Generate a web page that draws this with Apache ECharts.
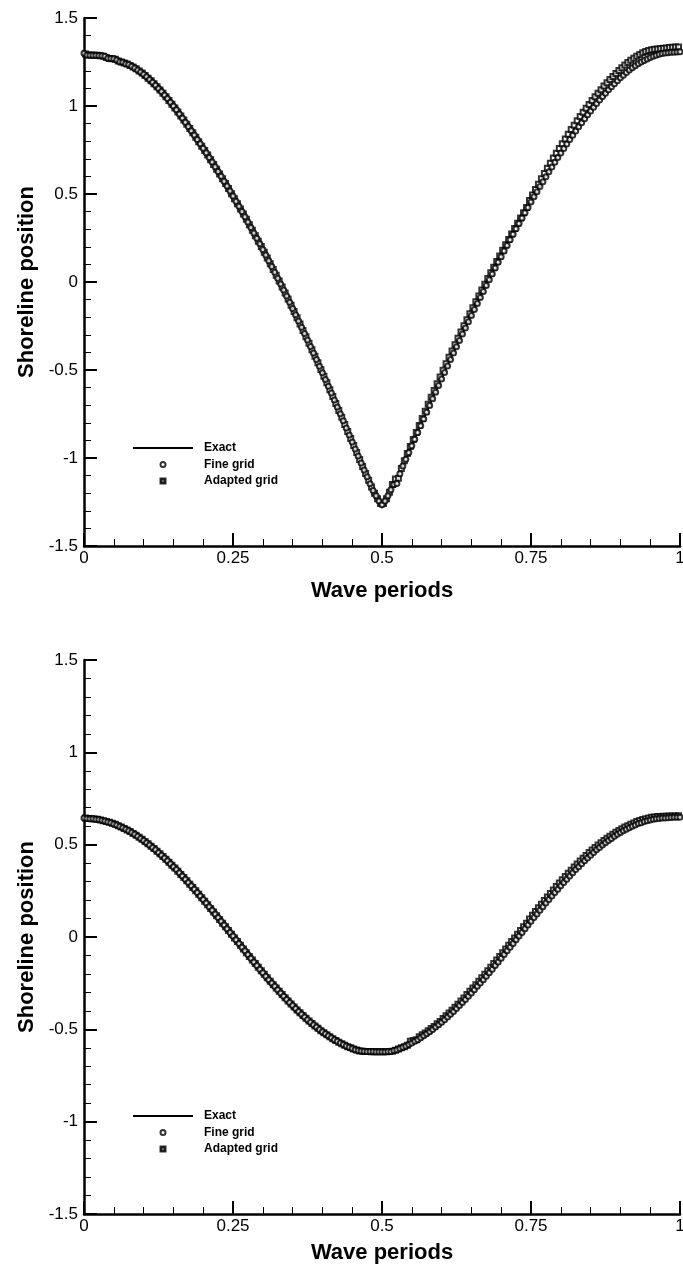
<!DOCTYPE html>
<html><head><meta charset="utf-8">
<script src="https://cdn.jsdelivr.net/npm/echarts@6/dist/echarts.min.js"></script>
<style>html,body{margin:0;padding:0;background:#fff}#c{width:683px;height:1270px}</style>
</head><body><div id="c"></div>
<script>
// ---- tick labels ----
const X_TICK_LABELS = ['0', '0.25', '0.5', '0.75', '1'];
const Y_TICK_LABELS = ['-1.5', '-1', '-0.5', '0', '0.5', '1', '1.5'];
const SERIES_NAMES = ['Exact', 'Fine grid', 'Adapted grid'];

// ---- sampling times (wave periods) ----
const EXACT_T_START = 0, EXACT_T_STEP = 0.01;
const FINE_T_START = 0, FINE_T_STEP = 0.005;
const ADAPT_T_START = 0.0025, ADAPT_T_STEP = 0.005;

// ---- top panel: shoreline position ----
const TOP_EXACT = [
 1.300,1.299,1.297,1.292,1.285,1.275,1.262,1.246,1.228,1.205,
 1.180,1.151,1.118,1.082,1.042,1.000,0.955,0.908,0.860,0.810,
 0.760,0.708,0.655,0.601,0.545,0.488,0.430,0.371,0.310,0.248,
 0.185,0.121,0.055,-0.012,-0.080,-0.150,-0.221,-0.293,-0.366,-0.440,
 -0.515,-0.592,-0.670,-0.749,-0.829,-0.909,-0.989,-1.068,-1.146,-1.220,
 -1.285,-1.225,-1.155,-1.082,-1.007,-0.931,-0.855,-0.778,-0.702,-0.626,
 -0.551,-0.477,-0.404,-0.332,-0.261,-0.191,-0.122,-0.054,0.013,0.079,
 0.144,0.208,0.271,0.333,0.394,0.454,0.513,0.570,0.626,0.680,
 0.733,0.784,0.834,0.882,0.928,0.972,1.014,1.054,1.092,1.127,
 1.160,1.190,1.217,1.240,1.259,1.274,1.288,1.296,1.302,1.305,
 1.307
];
const TOP_FINE = [
 1.300,1.290,1.288,1.288,1.288,1.287,1.286,1.282,1.272,1.270,
 1.268,1.262,1.252,1.248,1.240,1.236,1.226,1.216,1.205,1.193,
 1.180,1.166,1.151,1.135,1.118,1.100,1.082,1.062,1.042,1.021,
 1.000,0.978,0.955,0.932,0.908,0.884,0.860,0.835,0.810,0.785,
 0.760,0.734,0.708,0.682,0.655,0.628,0.601,0.573,0.545,0.517,
 0.488,0.459,0.430,0.401,0.371,0.341,0.310,0.279,0.248,0.217,
 0.185,0.153,0.121,0.088,0.055,0.022,-0.012,-0.046,-0.080,-0.115,
 -0.150,-0.186,-0.221,-0.257,-0.293,-0.330,-0.366,-0.403,-0.440,-0.478,
 -0.515,-0.554,-0.592,-0.631,-0.670,-0.710,-0.749,-0.789,-0.829,-0.869,
 -0.909,-0.949,-0.989,-1.029,-1.068,-1.107,-1.146,-1.184,-1.215,-1.245,
 -1.265,-1.245,-1.215,-1.180,-1.150,-1.145,-1.090,-1.045,-1.007,-0.969,
 -0.931,-0.893,-0.855,-0.817,-0.778,-0.740,-0.702,-0.664,-0.626,-0.588,
 -0.551,-0.514,-0.477,-0.440,-0.404,-0.368,-0.332,-0.296,-0.261,-0.226,
 -0.191,-0.156,-0.122,-0.088,-0.054,-0.020,0.013,0.046,0.079,0.112,
 0.144,0.176,0.208,0.240,0.271,0.302,0.333,0.364,0.394,0.424,
 0.454,0.484,0.513,0.542,0.570,0.598,0.626,0.653,0.680,0.707,
 0.733,0.759,0.784,0.809,0.834,0.858,0.882,0.905,0.928,0.950,
 0.972,0.993,1.014,1.034,1.054,1.073,1.092,1.110,1.127,1.144,
 1.160,1.175,1.190,1.204,1.217,1.229,1.240,1.250,1.259,1.267,
 1.276,1.283,1.289,1.294,1.298,1.301,1.303,1.305,1.306,1.307,
 1.308
];
const TOP_ADAPTED = [
 1.295,1.290,1.290,1.289,1.288,1.286,1.282,1.276,1.270,1.268,
 1.266,1.256,1.250,1.244,1.238,1.230,1.222,1.211,1.199,1.187,
 1.173,1.158,1.143,1.127,1.109,1.091,1.072,1.052,1.031,1.010,
 0.989,0.966,0.943,0.920,0.896,0.872,0.848,0.822,0.797,0.772,
 0.747,0.721,0.695,0.668,0.641,0.614,0.587,0.559,0.531,0.502,
 0.473,0.444,0.415,0.386,0.356,0.325,0.294,0.263,0.232,0.201,
 0.169,0.137,0.104,0.071,0.038,0.005,-0.029,-0.063,-0.097,-0.132,
 -0.168,-0.203,-0.239,-0.275,-0.311,-0.348,-0.385,-0.422,-0.459,-0.497,
 -0.535,-0.573,-0.612,-0.651,-0.690,-0.730,-0.769,-0.809,-0.849,-0.889,
 -0.929,-0.969,-1.009,-1.049,-1.088,-1.127,-1.165,-1.200,-1.232,-1.258,
 -1.258,-1.232,-1.195,-1.150,-1.120,-1.115,-1.060,-1.015,-0.975,-0.935,
 -0.895,-0.855,-0.815,-0.775,-0.735,-0.695,-0.655,-0.617,-0.578,-0.540,
 -0.502,-0.465,-0.428,-0.392,-0.356,-0.320,-0.284,-0.249,-0.214,-0.180,
 -0.146,-0.112,-0.079,-0.046,-0.013,0.020,0.052,0.084,0.116,0.148,
 0.180,0.211,0.242,0.273,0.304,0.334,0.364,0.394,0.424,0.463,
 0.494,0.525,0.556,0.586,0.616,0.646,0.675,0.704,0.732,0.759,
 0.786,0.813,0.840,0.866,0.891,0.916,0.940,0.964,0.987,1.009,
 1.031,1.052,1.073,1.093,1.113,1.132,1.150,1.168,1.185,1.202,
 1.218,1.233,1.247,1.260,1.272,1.283,1.293,1.302,1.310,1.316,
 1.320,1.322,1.324,1.326,1.328,1.330,1.332,1.334,1.335,1.335
];

// ---- bottom panel: shoreline position ----
const BOTTOM_EXACT = [
 0.645,0.644,0.640,0.634,0.625,0.614,0.600,0.584,0.566,0.545,
 0.523,0.498,0.472,0.443,0.413,0.381,0.348,0.313,0.277,0.241,
 0.203,0.164,0.125,0.085,0.045,0.005,-0.035,-0.075,-0.115,-0.154,
 -0.193,-0.231,-0.267,-0.303,-0.338,-0.371,-0.403,-0.433,-0.462,-0.488,
 -0.513,-0.535,-0.556,-0.574,-0.590,-0.604,-0.615,-0.624,-0.630,-0.634,
 -0.635,-0.624,-0.615,-0.604,-0.590,-0.574,-0.556,-0.535,-0.513,-0.488,
 -0.462,-0.433,-0.403,-0.371,-0.338,-0.303,-0.267,-0.231,-0.193,-0.154,
 -0.115,-0.075,-0.035,0.005,0.045,0.085,0.125,0.164,0.203,0.241,
 0.277,0.313,0.348,0.381,0.413,0.443,0.472,0.498,0.523,0.545,
 0.566,0.584,0.600,0.614,0.625,0.634,0.640,0.644,0.645,0.646,
 0.647
];
const BOTTOM_FINE = [
 0.645,0.642,0.641,0.640,0.638,0.636,0.632,0.628,0.623,0.619,
 0.612,0.607,0.599,0.592,0.584,0.575,0.566,0.556,0.545,0.534,
 0.523,0.511,0.498,0.485,0.472,0.458,0.443,0.428,0.413,0.397,
 0.381,0.365,0.348,0.331,0.313,0.295,0.277,0.259,0.241,0.222,
 0.203,0.184,0.164,0.145,0.125,0.105,0.085,0.065,0.045,0.025,
 0.005,-0.015,-0.035,-0.055,-0.075,-0.095,-0.115,-0.135,-0.154,-0.174,
 -0.193,-0.212,-0.231,-0.249,-0.267,-0.285,-0.303,-0.321,-0.338,-0.355,
 -0.371,-0.387,-0.403,-0.418,-0.433,-0.448,-0.462,-0.475,-0.488,-0.501,
 -0.513,-0.524,-0.535,-0.546,-0.556,-0.565,-0.574,-0.582,-0.590,-0.597,
 -0.604,-0.610,-0.615,-0.618,-0.619,-0.620,-0.620,-0.620,-0.621,-0.621,
 -0.621,-0.621,-0.620,-0.620,-0.615,-0.610,-0.604,-0.597,-0.590,-0.582,
 -0.574,-0.565,-0.556,-0.546,-0.535,-0.524,-0.513,-0.501,-0.488,-0.475,
 -0.462,-0.448,-0.433,-0.418,-0.403,-0.387,-0.371,-0.355,-0.338,-0.321,
 -0.303,-0.285,-0.267,-0.249,-0.231,-0.212,-0.193,-0.174,-0.154,-0.135,
 -0.115,-0.095,-0.075,-0.055,-0.035,-0.015,0.005,0.025,0.045,0.065,
 0.085,0.105,0.125,0.145,0.164,0.184,0.203,0.222,0.241,0.259,
 0.277,0.295,0.313,0.331,0.348,0.365,0.381,0.397,0.413,0.428,
 0.443,0.458,0.472,0.485,0.498,0.511,0.523,0.534,0.545,0.556,
 0.566,0.575,0.584,0.592,0.600,0.607,0.614,0.619,0.625,0.630,
 0.634,0.637,0.640,0.642,0.644,0.645,0.646,0.647,0.648,0.648,
 0.649
];
const BOTTOM_ADAPTED = [
 0.644,0.642,0.641,0.639,0.637,0.634,0.630,0.626,0.621,0.616,
 0.610,0.603,0.596,0.588,0.580,0.571,0.561,0.551,0.540,0.529,
 0.517,0.505,0.492,0.479,0.465,0.451,0.436,0.421,0.405,0.389,
 0.373,0.356,0.339,0.322,0.304,0.286,0.268,0.250,0.231,0.212,
 0.193,0.174,0.155,0.135,0.115,0.095,0.075,0.055,0.035,0.015,
 -0.005,-0.025,-0.045,-0.065,-0.085,-0.105,-0.125,-0.144,-0.164,-0.183,
 -0.202,-0.221,-0.240,-0.258,-0.276,-0.294,-0.312,-0.329,-0.346,-0.363,
 -0.379,-0.395,-0.410,-0.425,-0.440,-0.455,-0.468,-0.482,-0.494,-0.507,
 -0.518,-0.530,-0.540,-0.551,-0.560,-0.570,-0.578,-0.586,-0.594,-0.600,
 -0.607,-0.612,-0.617,-0.619,-0.620,-0.620,-0.621,-0.621,-0.621,-0.621,
 -0.621,-0.621,-0.620,-0.619,-0.613,-0.607,-0.600,-0.594,-0.586,-0.565,
 -0.560,-0.556,-0.540,-0.530,-0.520,-0.508,-0.496,-0.484,-0.470,-0.457,
 -0.442,-0.427,-0.412,-0.396,-0.380,-0.364,-0.347,-0.330,-0.312,-0.294,
 -0.276,-0.258,-0.240,-0.221,-0.202,-0.183,-0.164,-0.144,-0.125,-0.105,
 -0.085,-0.065,-0.045,-0.025,-0.005,0.015,0.035,0.055,0.075,0.098,
 0.118,0.138,0.158,0.178,0.198,0.217,0.236,0.255,0.274,0.292,
 0.310,0.328,0.345,0.362,0.379,0.395,0.411,0.427,0.442,0.457,
 0.471,0.485,0.498,0.511,0.523,0.535,0.546,0.557,0.567,0.577,
 0.586,0.595,0.603,0.611,0.618,0.625,0.631,0.636,0.641,0.645,
 0.648,0.650,0.652,0.653,0.654,0.654,0.655,0.655,0.655,0.656
];

// ---- build ----
function pairs(vals, start, step) {
  return vals.map((v, i) => [+(start + i * step).toFixed(4), v]);
}
const FONT = 'Liberation Sans, Arial, Helvetica, sans-serif';

function xAxisCfg(gridIndex, nameGap) {
  return {
    type: 'value', gridIndex, min: 0, max: 1, interval: 0.25,
    axisLine: { show: true, onZero: false, lineStyle: { color: '#000', width: 2.5 } },
    axisTick: { show: true, inside: true, length: 13, lineStyle: { color: '#000', width: 2 } },
    minorTick: { show: true, splitNumber: 5, length: 7, lineStyle: { color: '#000', width: 1 } },
    splitLine: { show: false }, minorSplitLine: { show: false },
    axisLabel: { color: '#000', fontSize: 17, fontFamily: FONT, margin: 4,
      formatter: v => X_TICK_LABELS[Math.round(v / 0.25)] },
    name: 'Wave periods', nameLocation: 'middle', nameGap,
    nameTextStyle: { color: '#000', fontSize: 22, fontWeight: 'bold', fontFamily: FONT }
  };
}
function yAxisCfg(gridIndex) {
  return {
    type: 'value', gridIndex, min: -1.5, max: 1.5, interval: 0.5,
    axisLine: { show: true, onZero: false, lineStyle: { color: '#000', width: 2.5 } },
    axisTick: { show: true, inside: true, length: 13, lineStyle: { color: '#000', width: 2 } },
    minorTick: { show: true, splitNumber: 5, length: 7, lineStyle: { color: '#000', width: 1 } },
    splitLine: { show: false }, minorSplitLine: { show: false },
    axisLabel: { color: '#000', fontSize: 17, fontFamily: FONT, margin: 6,
      formatter: v => Y_TICK_LABELS[Math.round((v + 1.5) / 0.5)] },
    name: 'Shoreline position', nameLocation: 'middle', nameGap: 36, nameRotate: 90,
    nameTextStyle: { color: '#000', fontSize: 22, fontWeight: 'bold', fontFamily: FONT }
  };
}
function legendCfg(top) {
  return {
    left: 127, top, orient: 'vertical', itemWidth: 60, itemHeight: 5, itemGap: 4.5,
    selectedMode: false, symbolKeepAspect: true,
    data: [
      { name: SERIES_NAMES[0], itemStyle: { opacity: 0 } },
      { name: SERIES_NAMES[1], icon: 'emptyCircle' },
      { name: SERIES_NAMES[2], icon: 'path://M0,0L10,0L10,10L0,10Z M2,2L2,8L8,8L8,2Z' }
    ],
    textStyle: { color: '#000', fontSize: 12, fontWeight: 'bold', fontFamily: FONT, padding: [0, 0, 0, 6] }
  };
}
function panelSeries(idx, exact, fine, adapted) {
  return [
    { name: SERIES_NAMES[0], type: 'line', xAxisIndex: idx, yAxisIndex: idx,
      data: pairs(exact, EXACT_T_START, EXACT_T_STEP), showSymbol: false, symbol: 'none',
      lineStyle: { color: '#000', width: 1 }, itemStyle: { color: '#000' }, z: 1, silent: true },
    { name: SERIES_NAMES[1], type: 'scatter', xAxisIndex: idx, yAxisIndex: idx,
      data: pairs(fine, FINE_T_START, FINE_T_STEP), symbol: 'emptyCircle', symbolSize: 5,
      itemStyle: { color: '#000', borderColor: '#000', borderWidth: 1 }, z: 3, silent: true },
    { name: SERIES_NAMES[2], type: 'scatter', xAxisIndex: idx, yAxisIndex: idx,
      data: pairs(adapted, ADAPT_T_START, ADAPT_T_STEP), symbol: 'emptyRect', symbolSize: 5,
      itemStyle: { color: '#000', borderColor: '#000', borderWidth: 1 }, z: 2, silent: true }
  ];
}

const chart = echarts.init(document.getElementById('c'), null, { renderer: 'canvas' });
chart.setOption({
  animation: false,
  backgroundColor: '#fff',
  grid: [
    { left: 84, top: 18, width: 596, height: 528, outerBoundsMode: 'none' },
    { left: 84, top: 660, width: 596, height: 554, outerBoundsMode: 'none' }
  ],
  xAxis: [xAxisCfg(0, 34), xAxisCfg(1, 28)],
  yAxis: [yAxisCfg(0), yAxisCfg(1)],
  legend: [legendCfg(437), legendCfg(1105)],
  series: [
    ...panelSeries(0, TOP_EXACT, TOP_FINE, TOP_ADAPTED),
    ...panelSeries(1, BOTTOM_EXACT, BOTTOM_FINE, BOTTOM_ADAPTED)
  ]
});
</script>
</body></html>
